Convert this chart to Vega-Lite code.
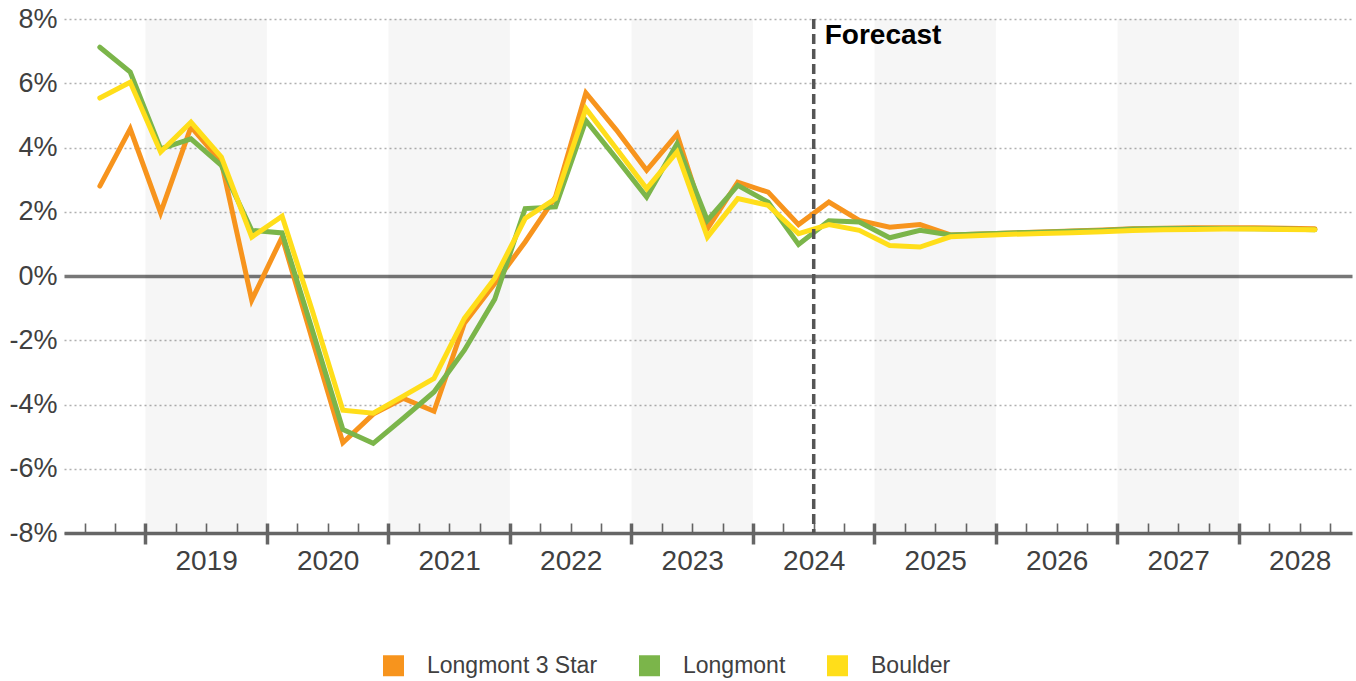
{
  "$schema": "https://vega.github.io/schema/vega-lite/v6.json",
  "width": 1288,
  "height": 514,
  "autosize": {"type": "none"},
  "padding": {"left": 64, "top": 19, "right": 4, "bottom": 148},
  "background": "white",
  "config": {"view": {"stroke": null}, "font": "Liberation Sans"},
  "datasets": {
    "bands": [
      {"start": 2019, "end": 2020},
      {"start": 2021, "end": 2022},
      {"start": 2023, "end": 2024},
      {"start": 2025, "end": 2026},
      {"start": 2027, "end": 2028}
    ],
    "series": [
      {"series": "Longmont 3 Star", "t": 2018.625, "v": 2.8},
      {"series": "Longmont 3 Star", "t": 2018.875, "v": 4.58},
      {"series": "Longmont 3 Star", "t": 2019.125, "v": 1.97},
      {"series": "Longmont 3 Star", "t": 2019.375, "v": 4.64},
      {"series": "Longmont 3 Star", "t": 2019.625, "v": 3.55},
      {"series": "Longmont 3 Star", "t": 2019.875, "v": -0.75},
      {"series": "Longmont 3 Star", "t": 2020.125, "v": 1.21},
      {"series": "Longmont 3 Star", "t": 2020.375, "v": -2.0},
      {"series": "Longmont 3 Star", "t": 2020.625, "v": -5.19},
      {"series": "Longmont 3 Star", "t": 2020.875, "v": -4.3},
      {"series": "Longmont 3 Star", "t": 2021.125, "v": -3.81},
      {"series": "Longmont 3 Star", "t": 2021.375, "v": -4.21},
      {"series": "Longmont 3 Star", "t": 2021.625, "v": -1.47},
      {"series": "Longmont 3 Star", "t": 2021.875, "v": -0.23},
      {"series": "Longmont 3 Star", "t": 2022.125, "v": 1.06},
      {"series": "Longmont 3 Star", "t": 2022.375, "v": 2.46},
      {"series": "Longmont 3 Star", "t": 2022.625, "v": 5.7},
      {"series": "Longmont 3 Star", "t": 2022.875, "v": 4.55},
      {"series": "Longmont 3 Star", "t": 2023.125, "v": 3.29},
      {"series": "Longmont 3 Star", "t": 2023.375, "v": 4.41},
      {"series": "Longmont 3 Star", "t": 2023.625, "v": 1.47},
      {"series": "Longmont 3 Star", "t": 2023.875, "v": 2.92},
      {"series": "Longmont 3 Star", "t": 2024.125, "v": 2.61},
      {"series": "Longmont 3 Star", "t": 2024.375, "v": 1.6},
      {"series": "Longmont 3 Star", "t": 2024.625, "v": 2.3},
      {"series": "Longmont 3 Star", "t": 2024.875, "v": 1.73},
      {"series": "Longmont 3 Star", "t": 2025.125, "v": 1.52},
      {"series": "Longmont 3 Star", "t": 2025.375, "v": 1.6},
      {"series": "Longmont 3 Star", "t": 2025.625, "v": 1.28},
      {"series": "Longmont 3 Star", "t": 2025.875, "v": 1.31},
      {"series": "Longmont 3 Star", "t": 2026.125, "v": 1.34},
      {"series": "Longmont 3 Star", "t": 2026.375, "v": 1.37},
      {"series": "Longmont 3 Star", "t": 2026.625, "v": 1.4},
      {"series": "Longmont 3 Star", "t": 2026.875, "v": 1.43},
      {"series": "Longmont 3 Star", "t": 2027.125, "v": 1.47},
      {"series": "Longmont 3 Star", "t": 2027.375, "v": 1.49},
      {"series": "Longmont 3 Star", "t": 2027.625, "v": 1.5},
      {"series": "Longmont 3 Star", "t": 2027.875, "v": 1.5},
      {"series": "Longmont 3 Star", "t": 2028.125, "v": 1.5},
      {"series": "Longmont 3 Star", "t": 2028.375, "v": 1.49},
      {"series": "Longmont 3 Star", "t": 2028.625, "v": 1.47},
      {"series": "Longmont", "t": 2018.625, "v": 7.12},
      {"series": "Longmont", "t": 2018.875, "v": 6.35},
      {"series": "Longmont", "t": 2019.125, "v": 3.96},
      {"series": "Longmont", "t": 2019.375, "v": 4.27},
      {"series": "Longmont", "t": 2019.625, "v": 3.44},
      {"series": "Longmont", "t": 2019.875, "v": 1.42},
      {"series": "Longmont", "t": 2020.125, "v": 1.34},
      {"series": "Longmont", "t": 2020.375, "v": -1.7},
      {"series": "Longmont", "t": 2020.625, "v": -4.78},
      {"series": "Longmont", "t": 2020.875, "v": -5.21},
      {"series": "Longmont", "t": 2021.125, "v": -4.42},
      {"series": "Longmont", "t": 2021.375, "v": -3.61},
      {"series": "Longmont", "t": 2021.625, "v": -2.31},
      {"series": "Longmont", "t": 2021.875, "v": -0.72},
      {"series": "Longmont", "t": 2022.125, "v": 2.1},
      {"series": "Longmont", "t": 2022.375, "v": 2.15},
      {"series": "Longmont", "t": 2022.625, "v": 4.84},
      {"series": "Longmont", "t": 2022.875, "v": 3.66},
      {"series": "Longmont", "t": 2023.125, "v": 2.46},
      {"series": "Longmont", "t": 2023.375, "v": 4.12},
      {"series": "Longmont", "t": 2023.625, "v": 1.73},
      {"series": "Longmont", "t": 2023.875, "v": 2.82},
      {"series": "Longmont", "t": 2024.125, "v": 2.3},
      {"series": "Longmont", "t": 2024.375, "v": 0.98},
      {"series": "Longmont", "t": 2024.625, "v": 1.72},
      {"series": "Longmont", "t": 2024.875, "v": 1.68},
      {"series": "Longmont", "t": 2025.125, "v": 1.19},
      {"series": "Longmont", "t": 2025.375, "v": 1.42},
      {"series": "Longmont", "t": 2025.625, "v": 1.28},
      {"series": "Longmont", "t": 2025.875, "v": 1.31},
      {"series": "Longmont", "t": 2026.125, "v": 1.34},
      {"series": "Longmont", "t": 2026.375, "v": 1.36},
      {"series": "Longmont", "t": 2026.625, "v": 1.39},
      {"series": "Longmont", "t": 2026.875, "v": 1.42},
      {"series": "Longmont", "t": 2027.125, "v": 1.46},
      {"series": "Longmont", "t": 2027.375, "v": 1.48},
      {"series": "Longmont", "t": 2027.625, "v": 1.48},
      {"series": "Longmont", "t": 2027.875, "v": 1.48},
      {"series": "Longmont", "t": 2028.125, "v": 1.47},
      {"series": "Longmont", "t": 2028.375, "v": 1.46},
      {"series": "Longmont", "t": 2028.625, "v": 1.44},
      {"series": "Boulder", "t": 2018.625, "v": 5.54},
      {"series": "Boulder", "t": 2018.875, "v": 6.03},
      {"series": "Boulder", "t": 2019.125, "v": 3.86},
      {"series": "Boulder", "t": 2019.375, "v": 4.79},
      {"series": "Boulder", "t": 2019.625, "v": 3.7},
      {"series": "Boulder", "t": 2019.875, "v": 1.21},
      {"series": "Boulder", "t": 2020.125, "v": 1.86},
      {"series": "Boulder", "t": 2020.375, "v": -1.1},
      {"series": "Boulder", "t": 2020.625, "v": -4.18},
      {"series": "Boulder", "t": 2020.875, "v": -4.27},
      {"series": "Boulder", "t": 2021.125, "v": -3.73},
      {"series": "Boulder", "t": 2021.375, "v": -3.19},
      {"series": "Boulder", "t": 2021.625, "v": -1.32},
      {"series": "Boulder", "t": 2021.875, "v": -0.07},
      {"series": "Boulder", "t": 2022.125, "v": 1.79},
      {"series": "Boulder", "t": 2022.375, "v": 2.41},
      {"series": "Boulder", "t": 2022.625, "v": 5.21},
      {"series": "Boulder", "t": 2022.875, "v": 3.97},
      {"series": "Boulder", "t": 2023.125, "v": 2.72},
      {"series": "Boulder", "t": 2023.375, "v": 3.86},
      {"series": "Boulder", "t": 2023.625, "v": 1.21},
      {"series": "Boulder", "t": 2023.875, "v": 2.41},
      {"series": "Boulder", "t": 2024.125, "v": 2.2},
      {"series": "Boulder", "t": 2024.375, "v": 1.32},
      {"series": "Boulder", "t": 2024.625, "v": 1.6},
      {"series": "Boulder", "t": 2024.875, "v": 1.42},
      {"series": "Boulder", "t": 2025.125, "v": 0.95},
      {"series": "Boulder", "t": 2025.375, "v": 0.9},
      {"series": "Boulder", "t": 2025.625, "v": 1.22},
      {"series": "Boulder", "t": 2025.875, "v": 1.26},
      {"series": "Boulder", "t": 2026.125, "v": 1.3},
      {"series": "Boulder", "t": 2026.375, "v": 1.32},
      {"series": "Boulder", "t": 2026.625, "v": 1.35},
      {"series": "Boulder", "t": 2026.875, "v": 1.38},
      {"series": "Boulder", "t": 2027.125, "v": 1.42},
      {"series": "Boulder", "t": 2027.375, "v": 1.44},
      {"series": "Boulder", "t": 2027.625, "v": 1.45},
      {"series": "Boulder", "t": 2027.875, "v": 1.46},
      {"series": "Boulder", "t": 2028.125, "v": 1.46},
      {"series": "Boulder", "t": 2028.375, "v": 1.45},
      {"series": "Boulder", "t": 2028.625, "v": 1.44}
    ]
  },
  "layer": [
    {
      "data": {"name": "bands"},
      "mark": {"type": "rect", "color": "#000000", "opacity": 0.037},
      "encoding": {
        "x": {
          "field": "start",
          "type": "quantitative",
          "scale": {"domain": [2018.33, 2028.93], "nice": false, "zero": false},
          "axis": {
            "orient": "bottom",
            "title": null,
            "values": [2019, 2020, 2021, 2022, 2023, 2024, 2025, 2026, 2027, 2028],
            "domain": false,
            "labels": false,
            "grid": false,
            "ticks": true,
            "tickSize": -10,
            "tickWidth": 3.5,
            "tickColor": "#666666"
          }
        },
        "x2": {"field": "end"}
      }
    },
    {
      "data": {"name": "series"},
      "mark": {"type": "line", "strokeWidth": 5, "strokeCap": "round"},
      "encoding": {
        "x": {
          "field": "t",
          "type": "quantitative",
          "scale": {"domain": [2018.33, 2028.93], "nice": false, "zero": false},
          "axis": {
            "orient": "bottom",
            "title": null,
            "values": [2018.5, 2018.75, 2019, 2019.25, 2019.5, 2019.75, 2020, 2020.25, 2020.5, 2020.75, 2021, 2021.25, 2021.5, 2021.75, 2022, 2022.25, 2022.5, 2022.75, 2023, 2023.25, 2023.5, 2023.75, 2024, 2024.25, 2024.5, 2024.75, 2025, 2025.25, 2025.5, 2025.75, 2026, 2026.25, 2026.5, 2026.75, 2027, 2027.25, 2027.5, 2027.75, 2028, 2028.25, 2028.5, 2028.75],
            "labelExpr": "(datum.value % 1 === 0.5 && datum.value > 2019) ? toString(floor(datum.value)) : ''",
            "labelFontSize": 28,
            "labelColor": "#404040",
            "labelFont": "Liberation Sans",
            "labelPadding": 24,
            "labelFlush": false,
            "labelOverlap": false,
            "labelBound": false,
            "grid": false,
            "domain": true,
            "domainColor": "#666666",
            "domainWidth": 3.5,
            "ticks": true,
            "tickColor": "#666666",
            "tickWidth": {"condition": {"test": "datum.value % 1 === 0", "value": 3.5}, "value": 1.6},
            "tickSize": {"condition": {"test": "datum.value % 1 === 0", "value": 11}, "value": -10}
          }
        },
        "y": {
          "field": "v",
          "type": "quantitative",
          "scale": {"domain": [-8, 8], "nice": false, "zero": false},
          "axis": {
            "title": null,
            "values": [-8, -6, -4, -2, 0, 2, 4, 6, 8],
            "labelExpr": "datum.value + '%'",
            "labelFontSize": 27,
            "labelColor": "#404040",
            "labelFont": "Liberation Sans",
            "labelPadding": 7,
            "domain": false,
            "ticks": false,
            "grid": true,
            "gridDash": {"condition": {"test": "datum.value === 0", "value": []}, "value": [2, 3]},
            "gridColor": {"condition": {"test": "datum.value === 0", "value": "#777777"}, "value": "#b0b0b0"},
            "gridWidth": {"condition": {"test": "datum.value === 0", "value": 3.5}, "value": 1.5}
          }
        },
        "color": {
          "field": "series",
          "type": "nominal",
          "sort": null,
          "scale": {"domain": ["Longmont 3 Star", "Longmont", "Boulder"], "range": ["#F7941D", "#7BB54A", "#FFDE1A"]},
          "legend": {
            "title": null,
            "orient": "none",
            "legendX": 318,
            "legendY": 635,
            "direction": "horizontal",
            "symbolType": "square",
            "symbolSize": 100,
            "symbolStrokeWidth": 11,
            "symbolOpacity": 1,
            "labelFontSize": 23,
            "labelColor": "#404040",
            "labelFont": "Liberation Sans",
            "labelLimit": 400,
            "labelOffset": 22,
            "columnPadding": 24
          }
        }
      }
    },
    {
      "data": {"values": [{}]},
      "mark": {"type": "rule", "strokeDash": [10, 5], "strokeWidth": 3.5, "color": "#555555"},
      "encoding": {"x": {"datum": 2024.5, "type": "quantitative", "axis": null}}
    },
    {
      "data": {"values": [{"label": "Forecast"}]},
      "mark": {"type": "text", "align": "left", "baseline": "alphabetic", "dx": 11, "dy": 25, "fontSize": 28, "fontWeight": "bold", "font": "Liberation Sans", "color": "#000000"},
      "encoding": {
        "x": {"datum": 2024.5, "type": "quantitative", "axis": null},
        "y": {"datum": 8, "type": "quantitative"},
        "text": {"field": "label"}
      }
    }
  ],
  "resolve": {"axis": {"x": "independent"}}
}
